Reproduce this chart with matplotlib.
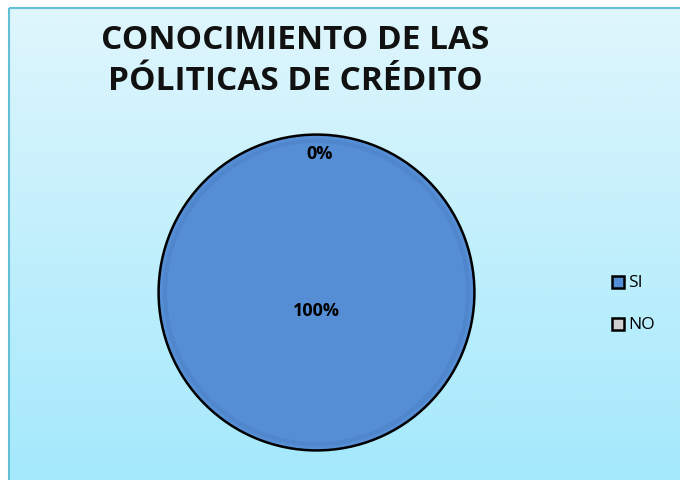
import numpy as np
import matplotlib.pyplot as plt
from matplotlib.patches import Rectangle, Circle

categorias = ["SI", "NO"]
valores = [100, 0]
colores = ["#558ed5", "#d0d0d0"]
titulo = "CONOCIMIENTO DE LAS\nPÓLITICAS DE CRÉDITO"

fig = plt.figure(figsize=(6.8, 4.81), dpi=100)
fig.patch.set_facecolor("white")

# fondo degradado con marco
bg = fig.add_axes([0, 0, 1, 1])
bg.set_xlim(0, 680)
bg.set_ylim(481, 0)
bg.axis("off")
grad = np.linspace(0, 1, 256).reshape(-1, 1)
top = np.array([0xdf, 0xf6, 0xfc]) / 255
bottom = np.array([0xa4, 0xe9, 0xfc]) / 255
img = top + grad[..., None] * (bottom - top)
bg.imshow(img, extent=[9, 680, 481, 9], aspect="auto", zorder=0)
bg.add_patch(Rectangle((8.5, 8.5), 680, 480, fill=False, edgecolor="#62bfd6", lw=1.5, zorder=1))

fig.text(0.434, 0.874, titulo, ha="center", va="center", fontsize=24, fontweight="bold",
         family="Open Sans", linespacing=1.32, color="#111111")

ax = fig.add_axes([156 / 680, 1 - 453 / 481, 321 / 680, 319 / 481])
wedges, textos, autotextos = ax.pie(
    valores, colors=colores, startangle=90, counterclock=False,
    autopct="%1.0f%%", pctdistance=0.5,
    wedgeprops=dict(linewidth=0),
    textprops=dict(fontsize=13, fontweight="bold", family="Open Sans", zorder=5))
ax.set_xlim(-1.01, 1.01)
ax.set_ylim(-1.01, 1.01)
ax.set_aspect("equal")
# bisel interior y borde
ax.add_patch(Circle((0, 0), 0.96, fill=False, edgecolor="#4f86cc", lw=3, zorder=3))
ax.add_patch(Circle((0, 0), 1.0, fill=False, edgecolor="black", lw=1.8, zorder=4))
# posiciones de etiquetas
autotextos[0].set_position((0, -0.11))
autotextos[1].set_position((0.02, 0.885))

# leyenda
for i, (cat, col) in enumerate(zip(categorias, colores)):
    y = 283 + i * 42
    bg.add_patch(Rectangle((612, y - 6), 12, 12, facecolor=col, edgecolor="black", lw=1.8, zorder=3))
    bg.text(628, y, cat, va="center", ha="left", fontsize=12.5, family="Open Sans", zorder=3)

fig.savefig("out.png", dpi=100)
